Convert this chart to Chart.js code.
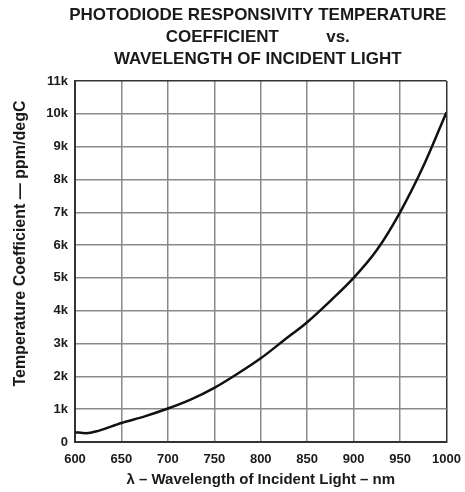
<!DOCTYPE html>
<html>
<head>
<meta charset="utf-8">
<script src="https://cdn.jsdelivr.net/npm/chart.js@4.4.0/dist/chart.umd.min.js"></script>
<style>
  html, body { margin: 0; padding: 0; background: #fff; }
  #wrap { width: 465px; height: 492px; }
</style>
</head>
<body>
<div id="wrap"><canvas id="chart" width="465" height="492"></canvas></div>
<script>
// wavelength (nm) and temperature coefficient (ppm/degC)
const wavelengths = [600, 612, 625, 650, 675, 700, 725, 750, 775, 800, 825, 850, 875, 900, 925, 950, 975, 1000];
const tempCoeff = [300, 270, 340, 580, 780, 1020, 1300, 1650, 2080, 2550, 3100, 3650, 4300, 5000, 5850, 7000, 8400, 10050];

const titleLines = [
  'PHOTODIODE RESPONSIVITY TEMPERATURE',
  'COEFFICIENT          vs.',
  'WAVELENGTH OF INCIDENT LIGHT'
];
const xTitle = '\u03bb \u2013 Wavelength of Incident Light \u2013 nm';
const yTitle = 'Temperature Coefficient \u2014 ppm/degC';

const FONT = '"Liberation Sans", Arial, sans-serif';
const INK = '#1a1a1a';

const points = wavelengths.map((w, i) => ({ x: w, y: tempCoeff[i] }));

// title centred over the plot area, y title a bit above the plot middle
const plotText = {
  id: 'plotText',
  afterDraw(chart) {
    const { ctx, chartArea } = chart;
    const cx = (chartArea.left + chartArea.right) / 2 - 3;
    ctx.save();
    ctx.fillStyle = INK;
    ctx.textAlign = 'center';
    ctx.textBaseline = 'middle';
    ctx.font = 'bold 17px ' + FONT;
    titleLines.forEach((line, i) => ctx.fillText(line, cx, 15 + i * 22));

    ctx.font = 'bold 16px ' + FONT;
    ctx.translate(21, (chartArea.top + chartArea.bottom) / 2 - 18);
    ctx.rotate(-Math.PI / 2);
    ctx.fillText(yTitle, 0, 0);
    ctx.restore();
  }
};

new Chart(document.getElementById('chart'), {
  type: 'line',
  data: {
    datasets: [{
      data: points,
      borderColor: '#111',
      borderWidth: 2.5,
      pointRadius: 0,
      fill: false,
      cubicInterpolationMode: 'monotone'
    }]
  },
  options: {
    responsive: false,
    animation: false,
    layout: { padding: { left: 0, right: 18.5, top: 81, bottom: 0 } },
    plugins: {
      legend: { display: false },
      tooltip: { enabled: false },
      title: { display: false }
    },
    scales: {
      x: {
        type: 'linear',
        min: 600,
        max: 1000,
        ticks: {
          stepSize: 50,
          color: INK,
          font: { family: FONT, size: 13, weight: 'bold' },
          padding: 10,
          maxRotation: 0,
          callback: v => String(v)
        },
        grid: {
          color: ctx => (ctx.tick && ctx.tick.value === 1000) ? '#333' : '#8a8a8a',
          lineWidth: 1.5,
          drawTicks: false
        },
        border: { color: '#333', width: 2 },
        title: {
          display: true,
          text: xTitle,
          color: INK,
          font: { family: FONT, size: 15, weight: 'bold' },
          padding: { top: 0, bottom: 3 }
        },
        afterFit: s => { s.height = 50; s.paddingLeft = 0; s.paddingRight = 0; }
      },
      y: {
        min: 0,
        max: 11000,
        ticks: {
          stepSize: 1000,
          color: INK,
          font: { family: FONT, size: 13, weight: 'bold' },
          padding: 7,
          callback: v => v === 0 ? '0' : (v / 1000) + 'k'
        },
        grid: {
          color: ctx => (ctx.tick && ctx.tick.value === 11000) ? '#333' : '#8a8a8a',
          lineWidth: 1.5,
          drawTicks: false
        },
        border: { color: '#333', width: 2 },
        afterFit: s => { s.width = 75; s.paddingTop = 0; s.paddingBottom = 0; }
      }
    }
  },
  plugins: [plotText]
});
</script>
</body>
</html>
